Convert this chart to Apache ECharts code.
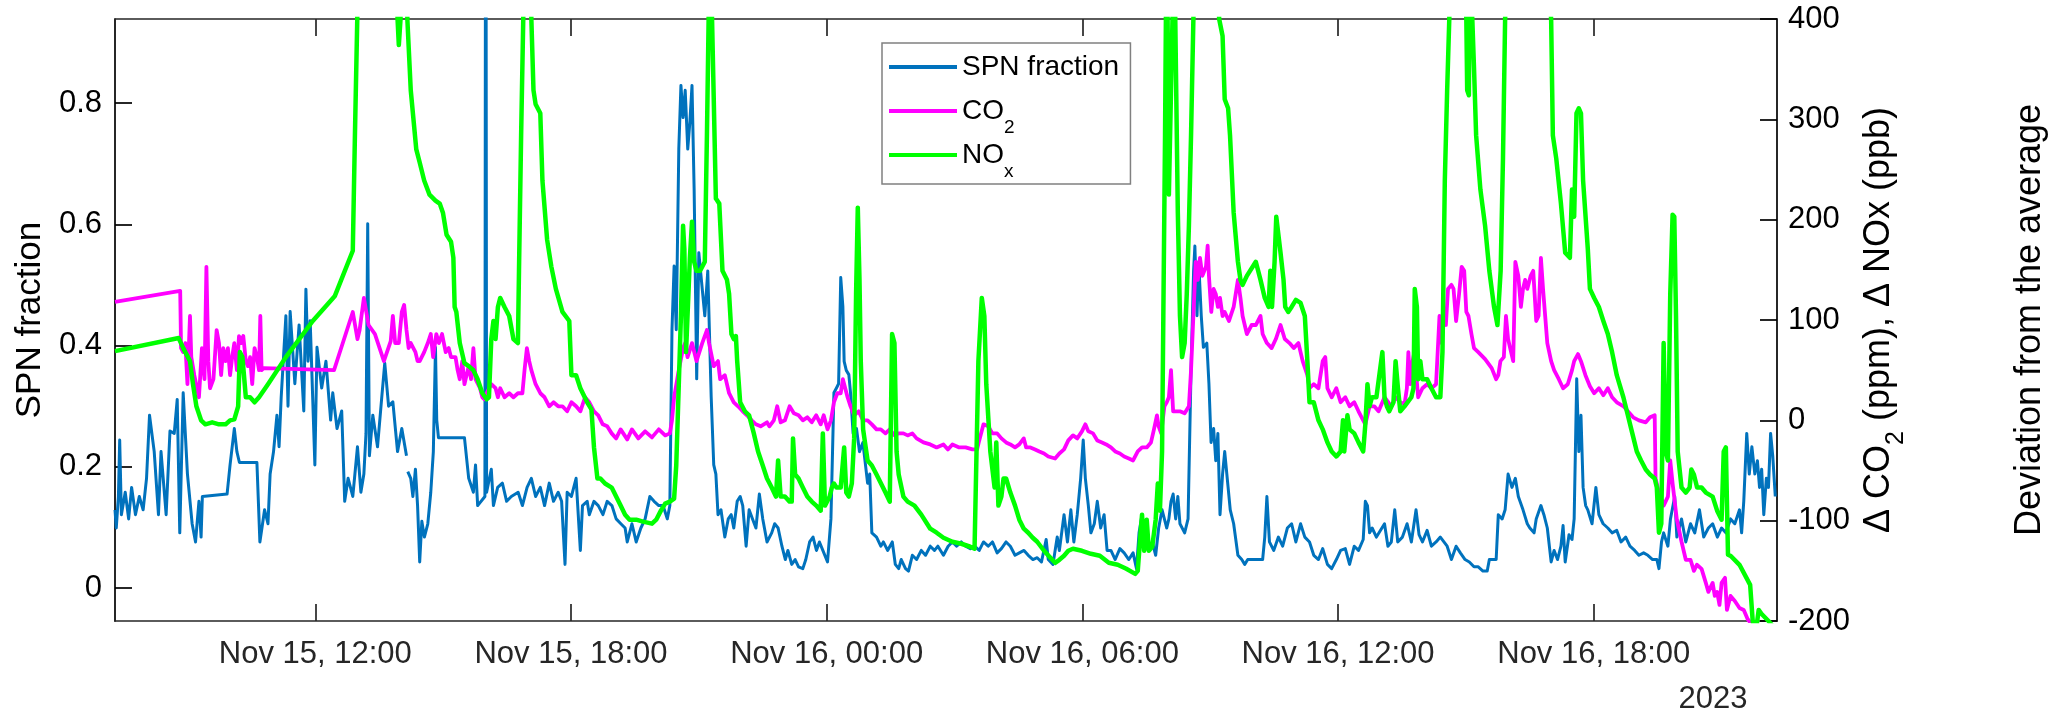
<!DOCTYPE html>
<html>
<head>
<meta charset="utf-8">
<script src="https://cdn.jsdelivr.net/npm/echarts@6/dist/echarts.min.js"></script>
<style>
  html, body { margin: 0; padding: 0; background: #fff; }
  #chart { width: 2060px; height: 708px; }
</style>
</head>
<body>
<div id="chart"></div>
<script>
// time axis: hours since Nov 15 2023, 00:00
const xMin = 7.3, xMax = 46.3
const xTickHours = [12, 18, 24, 30, 36, 42]
const xTickLabels = ['Nov 15, 12:00', 'Nov 15, 18:00', 'Nov 16, 00:00', 'Nov 16, 06:00', 'Nov 16, 12:00', 'Nov 16, 18:00']
const leftTicks = [0, 0.2, 0.4, 0.6, 0.8]

// SPN fraction (left axis)
const spnHours = [7.30,7.33,7.38,7.41,7.45,7.54,7.62,7.69,7.78,7.87,7.96,8.04,8.11,8.22,8.32,8.38,8.50,8.59,8.69,8.76,8.82,8.90,9.00,9.11,9.19,9.27,9.32,9.35,9.93,10.00,10.10,10.16,10.22,10.63,10.70,10.81,10.89,10.94,11.02,11.10,11.15,11.20,11.31,11.36,11.41,11.52,11.62,11.73,11.78,11.83,11.88,11.99,12.04,12.15,12.25,12.36,12.41,12.51,12.62,12.69,12.77,12.88,12.99,13.07,13.14,13.19,13.23,13.27,13.35,13.46,13.56,13.63,13.72,13.82,13.93,14.03,14.14,14.155,14.17,14.24,14.29,14.35,14.40,14.45,14.50,14.56,14.64,14.71,14.77,14.82,14.85,14.89,15.50,15.60,15.71,15.76,15.81,15.98,16.00,16.02,16.13,16.18,16.28,16.39,16.49,16.60,16.76,16.86,16.97,17.07,17.17,17.28,17.38,17.49,17.59,17.70,17.78,17.86,17.91,18.01,18.12,18.22,18.27,18.38,18.43,18.54,18.64,18.75,18.85,18.96,19.06,19.17,19.27,19.32,19.43,19.53,19.64,19.74,19.85,19.95,20.06,20.16,20.26,20.32,20.37,20.42,20.47,20.53,20.58,20.63,20.68,20.74,20.79,20.84,20.89,20.95,21.00,21.14,21.21,21.29,21.35,21.40,21.45,21.52,21.61,21.69,21.76,21.82,21.90,21.97,22.03,22.11,22.18,22.26,22.34,22.42,22.50,22.60,22.71,22.78,22.86,22.95,23.03,23.09,23.18,23.26,23.34,23.44,23.51,23.60,23.68,23.76,23.83,23.91,24.02,24.10,24.17,24.23,24.28,24.33,24.38,24.41,24.46,24.52,24.56,24.62,24.70,24.77,24.85,24.96,25.01,25.06,25.17,25.27,25.33,25.43,25.54,25.61,25.69,25.75,25.85,25.92,26.01,26.11,26.22,26.32,26.43,26.53,26.61,26.74,26.85,26.95,27.05,27.16,27.26,27.37,27.47,27.58,27.68,27.79,27.89,28.00,28.10,28.21,28.31,28.42,28.52,28.63,28.73,28.84,28.94,29.04,29.15,29.20,29.31,29.41,29.46,29.57,29.65,29.73,29.80,29.88,29.96,30.02,30.07,30.14,30.20,30.28,30.35,30.43,30.51,30.58,30.67,30.77,30.88,30.98,31.09,31.19,31.27,31.33,31.40,31.45,31.56,31.64,31.72,31.79,31.87,31.98,32.03,32.08,32.13,32.19,32.24,32.29,32.40,32.48,32.55,32.61,32.64,32.69,32.73,32.79,32.84,32.92,32.97,33.02,33.08,33.13,33.18,33.23,33.29,33.34,33.39,33.47,33.55,33.65,33.74,33.81,33.88,34.23,34.28,34.33,34.39,34.49,34.60,34.70,34.81,34.91,35.01,35.12,35.22,35.33,35.43,35.54,35.64,35.75,35.85,35.96,36.06,36.17,36.27,36.38,36.48,36.59,36.64,36.69,36.74,36.80,36.90,37.09,37.17,37.25,37.33,37.40,37.51,37.62,37.72,37.83,37.90,37.98,38.09,38.19,38.30,38.40,38.56,38.66,38.77,38.87,38.98,39.08,39.19,39.29,39.40,39.50,39.55,39.71,39.76,39.85,39.92,39.99,40.08,40.16,40.23,40.34,40.44,40.50,40.60,40.65,40.76,40.83,40.91,41.00,41.07,41.15,41.23,41.28,41.33,41.42,41.49,41.54,41.60,41.65,41.70,41.75,41.81,41.86,41.96,42.05,42.12,42.22,42.33,42.43,42.54,42.64,42.75,42.85,42.96,43.06,43.17,43.27,43.38,43.48,43.53,43.59,43.64,43.74,43.80,43.90,43.95,44.06,44.16,44.27,44.37,44.48,44.58,44.69,44.79,44.90,45.00,45.10,45.21,45.31,45.42,45.47,45.52,45.59,45.65,45.71,45.78,45.84,45.89,45.94,45.99,46.05,46.10,46.15,46.20,46.26]
const spnFrac = [0.129,0.099,0.151,0.244,0.121,0.158,0.114,0.166,0.121,0.151,0.129,0.181,0.285,0.225,0.121,0.225,0.121,0.259,0.255,0.311,0.091,0.322,0.188,0.106,0.076,0.143,0.084,0.151,0.155,0.203,0.263,0.225,0.207,0.207,0.076,0.129,0.106,0.188,0.225,0.285,0.233,0.315,0.449,0.300,0.456,0.337,0.434,0.292,0.493,0.374,0.441,0.203,0.397,0.330,0.374,0.277,0.322,0.263,0.292,0.143,0.181,0.151,0.233,0.158,0.188,0.255,0.601,0.218,0.285,0.233,0.315,0.371,0.300,0.307,0.225,0.263,0.218,'-',0.192,0.181,0.151,0.196,0.136,0.043,0.110,0.084,0.106,0.158,0.225,0.397,0.277,0.248,0.248,0.181,0.158,0.203,0.136,0.151,1.6,0.158,0.196,0.136,0.166,0.173,0.143,0.151,0.158,0.136,0.166,0.181,0.151,0.166,0.136,0.173,0.143,0.158,0.143,0.039,0.158,0.151,0.181,0.062,0.136,0.143,0.121,0.143,0.136,0.121,0.143,0.136,0.114,0.106,0.099,0.076,0.106,0.076,0.099,0.114,0.151,0.143,0.136,0.136,0.114,0.136,0.426,0.531,0.426,0.724,0.829,0.776,0.821,0.724,0.769,0.829,0.657,0.345,0.553,0.449,0.523,0.315,0.203,0.188,0.121,0.129,0.084,0.114,0.121,0.099,0.143,0.151,0.136,0.069,0.129,0.114,0.099,0.155,0.114,0.076,0.091,0.106,0.099,0.069,0.047,0.062,0.039,0.047,0.035,0.032,0.047,0.076,0.084,0.062,0.076,0.062,0.043,0.114,0.322,0.330,0.337,0.512,0.464,0.374,0.359,0.352,0.322,0.255,0.263,0.225,0.240,0.173,0.188,0.091,0.084,0.069,0.076,0.062,0.076,0.039,0.032,0.047,0.032,0.028,0.054,0.047,0.062,0.054,0.069,0.062,0.069,0.054,0.069,0.076,0.069,0.076,0.069,0.065,0.069,0.062,0.076,0.069,0.076,0.058,0.065,0.076,0.069,0.054,0.058,0.062,0.054,0.047,0.050,0.043,0.080,0.047,0.039,0.084,0.062,0.121,0.076,0.129,0.076,0.121,0.181,0.244,0.181,0.136,0.091,0.106,0.143,0.099,0.121,0.062,0.062,0.047,0.065,0.058,0.047,0.058,0.032,0.091,0.121,0.076,0.062,0.076,0.054,0.099,0.129,0.099,0.114,0.143,0.155,0.114,0.151,0.106,0.091,0.114,0.359,0.523,0.564,0.449,0.538,0.449,0.397,0.404,0.337,0.240,0.263,0.210,0.255,0.121,0.188,0.225,0.188,0.129,0.106,0.054,0.047,0.039,0.047,0.047,0.084,0.151,0.076,0.062,0.084,0.069,0.099,0.106,0.076,0.106,0.084,0.076,0.054,0.047,0.065,0.039,0.032,0.047,0.062,0.065,0.039,0.069,0.062,0.080,0.143,0.136,0.091,0.099,0.084,0.106,0.069,0.076,0.129,0.076,0.084,0.106,0.076,0.129,0.088,0.076,0.095,0.069,0.076,0.084,0.069,0.047,0.069,0.058,0.047,0.043,0.035,0.035,0.028,0.028,0.047,0.047,0.121,0.114,0.129,0.188,0.166,0.181,0.151,0.129,0.106,0.099,0.091,0.114,0.136,0.121,0.099,0.043,0.062,0.047,0.069,0.103,0.043,0.088,0.080,0.114,0.345,0.225,0.285,0.166,0.136,0.129,0.106,0.166,0.121,0.106,0.099,0.091,0.095,0.076,0.084,0.069,0.062,0.054,0.058,0.054,0.047,0.047,0.032,0.076,0.091,0.069,0.114,0.151,0.084,0.114,0.076,0.106,0.091,0.129,0.084,0.099,0.106,0.084,0.099,0.091,0.114,0.106,0.129,0.091,0.143,0.255,0.188,0.233,0.188,0.210,0.166,0.196,0.121,0.181,0.166,0.255,0.218,0.151]

// CO2 deviation from the average, ppm (right axis)
const co2Hours = [7.30,8.83,8.85,8.90,8.95,9.00,9.06,9.09,9.16,9.27,9.34,9.40,9.445,9.49,9.53,9.61,9.685,9.74,9.79,9.84,9.895,9.95,10.00,10.05,10.10,10.16,10.21,10.26,10.31,10.37,10.42,10.47,10.52,10.575,10.63,10.68,10.71,10.74,10.79,12.44,12.88,12.99,13.04,13.14,13.25,13.40,13.61,13.77,13.82,13.875,13.96,14.03,14.085,14.14,14.19,14.24,14.35,14.40,14.45,14.555,14.64,14.71,14.765,14.84,14.90,14.975,15.06,15.13,15.185,15.29,15.34,15.39,15.45,15.50,15.55,15.60,15.655,15.71,15.76,15.865,15.92,15.97,16.02,16.13,16.23,16.285,16.34,16.44,16.55,16.65,16.755,16.86,16.91,16.965,17.02,17.07,17.17,17.28,17.38,17.49,17.59,17.70,17.80,17.91,18.01,18.12,18.22,18.33,18.43,18.54,18.64,18.745,18.85,18.955,19.06,19.165,19.32,19.43,19.58,19.74,19.90,20.06,20.21,20.32,20.37,20.42,20.53,20.63,20.68,20.735,20.84,20.945,21.08,21.19,21.24,21.35,21.45,21.50,21.61,21.71,21.82,21.92,22.03,22.13,22.24,22.34,22.45,22.60,22.655,22.76,22.84,22.92,23.02,23.13,23.23,23.34,23.44,23.545,23.65,23.755,23.86,23.93,24.02,24.10,24.17,24.25,24.33,24.38,24.435,24.49,24.56,24.645,24.75,24.855,24.96,25.06,25.17,25.27,25.38,25.48,25.59,25.69,25.80,25.90,26.01,26.11,26.27,26.43,26.58,26.74,26.845,26.95,27.11,27.26,27.42,27.53,27.58,27.68,27.79,27.89,28.00,28.10,28.21,28.31,28.42,28.52,28.625,28.68,28.78,28.89,28.99,29.10,29.20,29.36,29.46,29.57,29.67,29.78,29.88,29.99,30.07,30.14,30.25,30.35,30.46,30.56,30.67,30.77,30.88,30.98,31.09,31.19,31.30,31.40,31.51,31.61,31.68,31.75,31.79,31.85,31.925,31.98,32.03,32.08,32.13,32.29,32.40,32.50,32.55,32.605,32.66,32.71,32.76,32.815,32.90,32.94,32.97,33.025,33.08,33.13,33.18,33.23,33.29,33.34,33.44,33.55,33.65,33.71,33.76,33.86,33.97,34.07,34.18,34.23,34.33,34.44,34.54,34.65,34.75,34.86,34.96,35.07,35.17,35.28,35.33,35.43,35.54,35.64,35.70,35.75,35.85,35.96,36.06,36.17,36.27,36.38,36.48,36.59,36.64,36.74,36.85,36.95,37.09,37.25,37.35,37.46,37.56,37.615,37.65,37.69,37.75,37.79,37.835,37.88,37.98,38.09,38.19,38.30,38.38,38.43,38.48,38.53,38.58,38.66,38.71,38.77,38.84,38.90,38.96,39.01,39.06,39.13,39.19,39.29,39.45,39.605,39.71,39.76,39.81,39.89,39.94,39.99,40.06,40.11,40.16,40.23,40.29,40.34,40.39,40.44,40.52,40.58,40.65,40.705,40.76,40.81,40.86,40.91,41.00,41.07,41.18,41.28,41.39,41.49,41.54,41.63,41.70,41.805,41.91,42.01,42.12,42.225,42.33,42.43,42.54,42.70,42.80,42.925,43.06,43.22,43.32,43.43,43.45,43.53,43.64,43.74,43.795,43.85,43.95,44.06,44.16,44.27,44.35,44.42,44.53,44.63,44.69,44.79,44.84,44.895,44.95,45.00,45.08,45.125,45.21,45.31,45.42,45.52,45.61,45.68,45.84,46.30]
const co2Dev = [118,129,72,68,77,36,104,63,45,23,72,41,153,59,32,41,90,77,45,72,59,72,45,63,77,50,84,77,84,59,54,63,36,72,63,50,104,50,52,50,108,81,90,122,95,86,59,79,104,77,77,108,115,90,72,77,68,59,59,68,77,86,63,86,77,86,68,72,63,63,50,41,59,36,45,54,41,72,41,32,23,21,27,36,32,23,32,23,27,23,27,27,50,72,59,50,36,27,23,14,18,14,14,9,18,14,9,23,18,9,5,-4,-6,-13,-18,-9,-19,-9,-18,-11,-17,-9,-15,-13,0,23,50,72,77,63,77,59,77,90,77,54,59,41,45,27,18,14,9,5,0,-4,-6,-2,-6,0,14,-2,0,14,7,5,0,3,-2,5,-4,5,-9,0,18,27,27,41,32,23,14,5,9,0,0,-4,-9,-9,-13,-9,-15,-13,-13,-15,-13,-18,-22,-24,-27,-24,-29,-24,-27,-27,-29,-29,-20,-4,-6,-13,-13,-18,-22,-24,-27,-24,-18,-27,-27,-29,-31,-33,-36,-38,-33,-29,-20,-15,-18,-11,-4,-11,-13,-20,-22,-24,-27,-31,-33,-36,-38,-40,-31,-27,-27,-22,-9,5,-6,-13,14,18,23,50,9,9,7,14,50,104,158,140,162,144,153,174,144,108,131,126,113,122,104,108,99,113,140,122,104,86,95,95,104,86,77,72,81,95,81,77,72,77,59,45,32,36,32,59,63,32,23,32,18,23,14,18,9,0,-4,14,14,9,23,14,23,18,16,32,68,36,59,68,45,23,32,36,32,36,104,77,104,95,131,135,131,99,126,153,149,108,104,86,72,68,61,52,41,45,59,63,104,81,68,59,158,144,113,131,140,131,144,149,99,104,162,131,104,77,59,50,41,32,36,50,59,66,59,45,34,27,32,25,32,23,18,14,9,3,0,-2,3,5,-58,-72,-85,-76,-40,-63,-99,-121,-139,-139,-150,-144,-148,-162,-171,-162,-175,-171,-184,-162,-157,-189,-175,-180,-187,-189,-198,-202,-211,-225]

// NOx deviation from the average, ppb (right axis); peaks run off the top of the plot
const noxHours = [7.30,8.795,8.90,9.06,9.13,9.21,9.32,9.42,9.58,9.74,9.895,10.00,10.10,10.19,10.23,10.29,10.37,10.47,10.575,10.68,10.89,11.31,11.94,12.46,12.88,12.93,12.985,13.04,13.875,13.93,13.96,14.00,14.03,14.11,14.16,14.24,14.37,14.45,14.555,14.68,14.82,14.92,14.995,15.08,15.185,15.24,15.27,15.31,15.39,15.50,15.60,15.71,15.81,15.92,16.02,16.075,16.13,16.18,16.23,16.285,16.34,16.44,16.55,16.65,16.755,16.78,16.83,16.88,16.94,17.03,17.07,17.12,17.17,17.28,17.33,17.44,17.54,17.645,17.80,17.96,18.01,18.12,18.22,18.38,18.48,18.54,18.62,18.69,18.80,18.955,19.06,19.165,19.27,19.375,19.53,19.69,19.90,20.00,20.11,20.21,20.32,20.42,20.47,20.53,20.58,20.63,20.66,20.70,20.79,20.84,20.89,20.945,21.03,21.14,21.19,21.23,21.26,21.31,21.40,21.48,21.555,21.66,21.71,21.765,21.82,21.87,21.90,21.97,22.08,22.18,22.29,22.39,22.50,22.60,22.71,22.81,22.86,22.92,23.02,23.13,23.18,23.21,23.26,23.34,23.44,23.545,23.65,23.755,23.86,23.91,23.96,24.07,24.12,24.17,24.23,24.33,24.41,24.46,24.52,24.59,24.645,24.69,24.73,24.77,24.80,24.855,24.96,25.06,25.17,25.38,25.48,25.535,25.59,25.64,25.69,25.80,25.90,26.06,26.22,26.43,26.58,26.74,26.95,27.16,27.37,27.47,27.56,27.64,27.70,27.745,27.84,27.94,27.98,28.03,28.10,28.15,28.21,28.31,28.42,28.52,28.625,28.73,28.835,28.94,29.10,29.25,29.36,29.46,29.57,29.67,29.78,29.99,30.20,30.41,30.62,30.83,31.03,31.24,31.30,31.35,31.40,31.45,31.51,31.56,31.64,31.72,31.77,31.82,31.87,31.90,31.94,31.96,31.98,32.00,32.03,32.08,32.115,32.145,32.18,32.24,32.29,32.34,32.40,32.45,32.50,32.55,32.605,32.80,33.00,33.21,33.29,33.34,33.42,33.465,33.55,33.65,33.71,33.76,33.86,34.07,34.18,34.28,34.37,34.41,34.45,34.51,34.55,34.60,34.65,34.72,34.76,34.83,34.91,35.01,35.12,35.22,35.28,35.33,35.43,35.54,35.64,35.75,35.85,35.96,36.06,36.115,36.145,36.22,36.27,36.38,36.48,36.59,36.64,36.69,36.74,36.795,36.90,37.04,37.09,37.145,37.20,37.30,37.35,37.405,37.46,37.56,37.72,37.77,37.80,37.85,37.88,37.93,37.98,38.09,38.19,38.30,38.40,38.45,38.505,38.56,38.61,38.80,39.01,39.03,39.07,39.09,39.15,39.19,39.24,39.34,39.45,39.55,39.66,39.74,39.815,39.87,39.92,40.30,41.00,41.04,41.12,41.23,41.33,41.44,41.49,41.54,41.595,41.65,41.70,41.75,41.86,41.91,42.01,42.12,42.225,42.33,42.43,42.54,42.695,42.80,42.905,43.01,43.11,43.22,43.32,43.43,43.48,43.53,43.585,43.64,43.69,43.74,43.795,43.85,43.89,43.93,43.97,44.06,44.16,44.25,44.29,44.35,44.425,44.53,44.63,44.79,44.895,45.00,45.05,45.10,45.15,45.21,45.42,45.67,45.73,45.79,45.87,45.94,46.10,46.30]
const noxDev = [69,82,72,59,36,14,0,-4,-2,-4,-4,0,1,14,68,63,23,23,18,23,36,63,99,124,169,284,400,800,800,400,374,400,700,700,400,329,270,257,239,225,219,216,207,185,178,162,113,108,77,57,54,50,41,27,21,23,81,99,81,113,122,113,104,81,77,149,284,400,600,600,400,329,315,306,239,180,153,131,108,99,45,45,32,18,11,-27,-58,-58,-63,-67,-76,-85,-94,-99,-99,-101,-103,-99,-90,-83,-81,-78,-45,36,104,194,171,68,162,198,158,149,149,158,284,400,520,400,221,216,149,140,126,86,81,84,59,18,9,5,-13,-31,-45,-58,-67,-76,-40,-76,-76,-81,-81,-18,-54,-58,-67,-76,-81,-85,-90,-13,-85,-76,-67,-63,-67,-67,-27,-72,-76,-63,-18,126,212,140,59,-9,-40,-45,-54,-72,-81,86,77,-31,-54,-76,-81,-85,-94,-108,-112,-117,-121,-123,-126,-128,59,122,104,36,-31,-67,-22,-85,-76,-58,-58,-72,-85,-99,-108,-112,-117,-121,-130,-137,-142,-139,-135,-130,-128,-130,-133,-135,-142,-144,-148,-153,-150,-121,-94,-130,-99,-130,-126,-99,-63,-90,-31,104,284,400,500,400,225,329,400,500,400,207,104,63,77,126,194,284,400,700,700,400,383,320,311,284,207,158,140,135,144,158,140,122,113,149,113,158,203,185,167,140,113,108,113,120,117,104,59,18,18,0,-9,-22,-31,-36,-31,0,-31,5,-9,-13,-22,-31,-4,36,14,23,23,68,23,14,9,18,59,32,9,14,23,32,131,113,41,59,41,41,32,23,23,68,239,329,400,700,400,329,324,450,400,351,284,230,194,149,113,95,149,261,400,800,400,284,261,216,167,162,230,203,306,311,306,239,171,131,122,113,99,86,68,45,23,5,-13,-31,-40,-49,-54,-58,-67,-112,-103,77,-31,-40,126,205,203,104,-31,-67,-72,-67,-49,-54,-67,-67,-72,-76,-90,-99,-31,-27,-134,-135,-144,-164,-200,-215,-189,-193,-200,-210]

const font = "'Liberation Sans', Arial, Helvetica, sans-serif"

function pairs(xs, ys) {
  return xs.map((x, i) => [x, ys[i]])
}

// x 刻度标签
function hourLabel(v) {
  const i = xTickHours.indexOf(Math.round(v))
  return i >= 0 ? xTickLabels[i] : ''
}

const chart = echarts.init(document.getElementById('chart'))

const xAxisBase = {
  type: 'value',
  min: xMin,
  max: xMax,
  splitLine: { show: false },
  axisLine: { onZero: false, lineStyle: { color: '#262626', width: 1.7 } },
  axisTick: { show: true, inside: true, length: 17, customValues: xTickHours, lineStyle: { color: '#262626', width: 1.7 } }
}

chart.setOption({
  animation: false,
  backgroundColor: '#fff',
  textStyle: { fontFamily: font },
  grid: { left: 115, right: 283, top: 19, bottom: 87, containLabel: false, outerBoundsMode: 'none' },
  legend: {
    orient: 'vertical',
    left: 882,
    top: 43,
    padding: [7, 6, 3, 7],
    itemGap: 1,
    itemWidth: 68,
    itemHeight: 4,
    icon: 'rect',
    borderColor: '#808080',
    borderWidth: 1.5,
    backgroundColor: '#fff',
    textStyle: {
      fontFamily: font,
      fontSize: 28,
      color: '#000',
      rich: {
        m: { fontFamily: font, fontSize: 28, lineHeight: 34 },
        s: { fontFamily: font, fontSize: 19, height: 1, lineHeight: 34, padding: [33, 0, 0, 0] }
      }
    },
    // every row gets a subscript token so all rows share one height
    formatter: name => {
      if (name === 'CO2') return '{m|CO}{s|2}'
      if (name === 'NOx') return '{m|NO}{s|x}'
      return '{m|' + name + '}{s| }'
    }
  },
  xAxis: [
    Object.assign({}, xAxisBase, {
      position: 'bottom',
      axisLabel: {
        customValues: xTickHours,
        formatter: hourLabel,
        color: '#262626',
        fontSize: 31,
        fontFamily: font,
        margin: 18
      }
    }),
    Object.assign({}, xAxisBase, {
      position: 'top',
      axisLabel: { show: false }
    })
  ],
  yAxis: [
    {
      type: 'value',
      position: 'left',
      min: -0.0544,
      max: 0.9386,
      splitLine: { show: false },
      axisLine: { show: true, onZero: false, lineStyle: { color: '#000', width: 1.7 } },
      axisTick: { show: true, inside: true, length: 17, customValues: leftTicks, lineStyle: { color: '#000', width: 1.7 } },
      axisLabel: { customValues: leftTicks, formatter: v => String(v), color: '#000', fontSize: 31, fontFamily: font, margin: 13 },
      name: 'SPN fraction',
      nameLocation: 'middle',
      nameRotate: 90,
      nameGap: 63,
      nameTextStyle: { fontSize: 35, color: '#000', fontFamily: font }
    },
    {
      type: 'value',
      position: 'right',
      min: -200,
      max: 400,
      interval: 100,
      splitLine: { show: false },
      axisLine: { show: true, onZero: false, lineStyle: { color: '#000', width: 1.7 } },
      axisTick: { show: true, inside: true, length: 17, lineStyle: { color: '#000', width: 1.7 } },
      axisLabel: { color: '#000', fontSize: 31, fontFamily: font, margin: 11 },
      name: '{a|\u0394 CO}{s|2}{a| (ppm), \u0394 NOx (ppb)}',
      nameLocation: 'middle',
      nameRotate: 90,
      nameGap: 81,
      nameTextStyle: {
        color: '#000',
        fontFamily: font,
        rich: {
          a: { fontFamily: font, fontSize: 36, lineHeight: 36, color: '#000' },
          s: { fontFamily: font, fontSize: 25, height: 1, lineHeight: 36, padding: [34, 0, 0, 0], color: '#000' }
        }
      }
    },
    {
      type: 'value',
      position: 'right',
      min: -200,
      max: 400,
      splitLine: { show: false },
      axisLine: { show: false, onZero: false },
      axisTick: { show: false },
      axisLabel: { show: false },
      name: 'Deviation from the average',
      nameLocation: 'middle',
      nameRotate: 90,
      nameGap: 235,
      nameTextStyle: { fontSize: 36, color: '#000', fontFamily: font }
    }
  ],
  graphic: [
    {
      type: 'text',
      x: 1713,
      y: 699,
      style: { text: '2023', align: 'center', verticalAlign: 'middle', fontSize: 31, fontFamily: font, fill: '#262626' }
    }
  ],
  series: [
    {
      name: 'SPN fraction',
      type: 'line',
      yAxisIndex: 0,
      data: pairs(spnHours, spnFrac),
      symbol: 'none',
      connectNulls: false,
      lineStyle: { color: '#0072BD', width: 3, join: 'round' },
      itemStyle: { color: '#0072BD' }
    },
    {
      name: 'CO2',
      type: 'line',
      yAxisIndex: 1,
      data: pairs(co2Hours, co2Dev),
      symbol: 'none',
      lineStyle: { color: '#FF00FF', width: 3.8, join: 'round' },
      itemStyle: { color: '#FF00FF' }
    },
    {
      name: 'NOx',
      type: 'line',
      yAxisIndex: 1,
      data: pairs(noxHours, noxDev),
      symbol: 'none',
      lineStyle: { color: '#00FF00', width: 4.5, join: 'round' },
      itemStyle: { color: '#00FF00' }
    }
  ]
})
</script>
</body>
</html>
